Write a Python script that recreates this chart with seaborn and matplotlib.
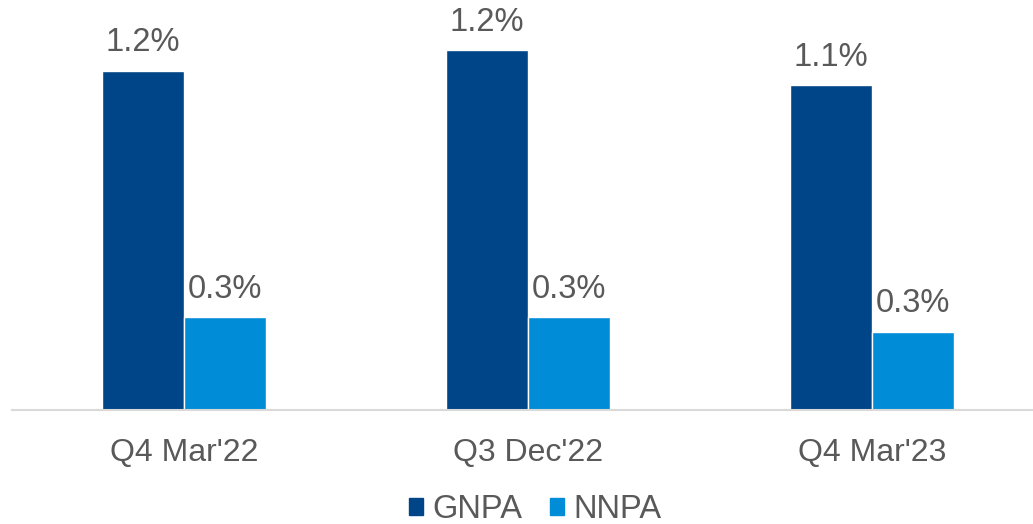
import pandas as pd
import numpy as np
import matplotlib
matplotlib.use('Agg')
import matplotlib.pyplot as plt
import seaborn as sns

quarters = ["Q4 Mar'22", "Q3 Dec'22", "Q4 Mar'23"]
gnpa = [1.17, 1.24, 1.12]
nnpa = [0.32, 0.32, 0.27]

df = pd.DataFrame({
    'Quarter': quarters * 2,
    'Metric': ['GNPA'] * 3 + ['NNPA'] * 3,
    'Value': gnpa + nnpa,
})

sns.set_theme(style='white')
plt.rcParams['font.family'] = ['Liberation Sans', 'DejaVu Sans']
text_col = '#595959'

fig = plt.figure(figsize=(10.33, 5.24), dpi=100)
ax = fig.add_axes([12 / 1033, 114 / 524, 1032 / 1033, 406 / 524])

sns.barplot(data=df, x='Quarter', y='Value', hue='Metric',
            palette=['#004587', '#008CD6'], width=0.477, ax=ax,
            saturation=1, errorbar=None)

ax.set_xlim(-0.5, 2.5)
ax.set_ylim(0, 1.4)
for c in ax.containers:
    ax.bar_label(c, labels=[f'{v:.1f}%' for v in c.datavalues],
                 padding=9, fontsize=23.5, color=text_col)

ax.set_xlabel('')
ax.set_ylabel('')
ax.set_yticks([])
ax.tick_params(axis='x', labelsize=23, labelcolor=text_col, length=0, pad=20)
for s in ['top', 'right', 'left']:
    ax.spines[s].set_visible(False)
ax.spines['bottom'].set_color('#d9d9d9')
ax.spines['bottom'].set_linewidth(1.5)

ax.get_legend().remove()
handles = [plt.Rectangle((0, 0), 1, 1, color='#004587'),
           plt.Rectangle((0, 0), 1, 1, color='#008CD6')]
fig.legend(handles, ['GNPA', 'NNPA'], loc='center', bbox_to_anchor=(0.518, 0.028),
           ncol=2, frameon=False, fontsize=23.5, labelcolor=text_col,
           handlelength=0.43, handleheight=0.43, handletextpad=0.28,
           columnspacing=0.85, borderpad=0)

fig.savefig('out.png', dpi=100)
